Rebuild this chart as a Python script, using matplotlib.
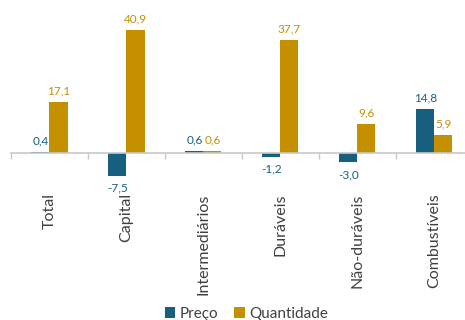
import numpy as np
import matplotlib
matplotlib.use("Agg")
import matplotlib.pyplot as plt

categorias = ["Total", "Capital", "Intermediários", "Duráveis", "Não-duráveis", "Combustíveis"]
preco = [0.4, -7.5, 0.6, -1.2, -3.0, 14.8]
quantidade = [17.1, 40.9, 0.6, 37.7, 9.6, 5.9]

cor_preco = "#175f7f"
cor_quant = "#c49000"

plt.rcParams['font.family'] = ['Lato', 'DejaVu Sans']

fig = plt.figure(figsize=(4.65, 3.2), dpi=100)
# zero line at ~153 px from top, 3 px per unit
ax = fig.add_axes([11 / 465, (320 - 183) / 320, (465 - 11) / 465, 174 / 320])

x = np.arange(len(categorias))
w = 0.235
b1 = ax.bar(x - w / 2, preco, w, color=cor_preco, label="Preço")
b2 = ax.bar(x + w / 2, quantidade, w, color=cor_quant, label="Quantidade")

def rotular(bars, vals, cor):
    for bar, v in zip(bars, vals):
        xc = bar.get_x() + bar.get_width() / 2
        off = 4 if v >= 0 else -5
        ax.annotate(f"{v:.1f}".replace(".", ","), (xc, v), xytext=(0, off),
                    textcoords="offset points", ha="center",
                    va="bottom" if v >= 0 else "top", fontsize=8.5, color=cor)

rotular(b1, preco, cor_preco)
rotular(b2, quantidade, cor_quant)

ax.set_ylim(-10, 48)
ax.set_xlim(-0.5, 5.4)

for s in ["top", "right", "left"]:
    ax.spines[s].set_visible(False)
ax.spines["bottom"].set_position(("data", 0))
ax.spines["bottom"].set_color("#c8c8c8")
ax.spines["bottom"].set_linewidth(1.2)
ax.set_yticks([])

ax.set_xticks(x)
ax.set_xticklabels(categorias, rotation=90, fontsize=11.5, color="#404040")
ax.tick_params(axis="x", which="major", length=0, pad=29)
ax.set_xticks(np.arange(len(categorias)) - 0.5, minor=True)
ax.tick_params(axis="x", which="minor", length=4, color="#c8c8c8", width=1)

fig.legend(handles=[b1, b2], loc="lower center", bbox_to_anchor=(0.53, -0.045),
           ncol=2, frameon=False, fontsize=11, handlelength=0.7, handleheight=0.7,
           handletextpad=0.3, columnspacing=1.0, labelcolor="#404040")

fig.savefig("out.png", dpi=100)
